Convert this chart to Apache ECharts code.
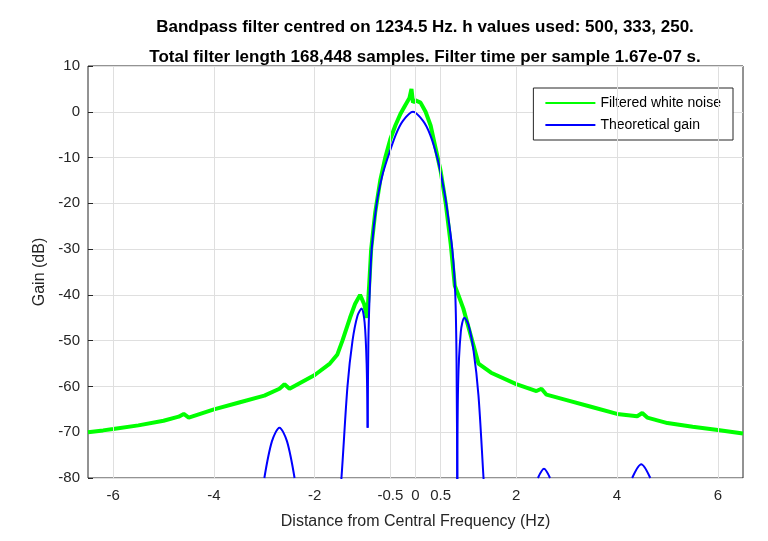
<!DOCTYPE html>
<html><head><meta charset="utf-8">
<script src="https://cdn.jsdelivr.net/npm/echarts@6/dist/echarts.min.js"></script>
<style>html,body{margin:0;background:#fff}#c{width:768px;height:541px}</style>
</head><body><div id="c"></div>
<script>
const xTicks = [-6,-4,-2,-0.5,0,0.5,2,4,6];
const noise = [[-6.5,-70],[-6.2,-69.6],[-6.0,-69.3],[-5.5,-68.5],[-5.0,-67.5],[-4.7,-66.6],[-4.6,-66],[-4.5,-66.8],[-4.0,-65],[-3.5,-63.5],[-3.0,-62],[-2.7,-60.5],[-2.6,-59.5],[-2.5,-60.5],[-2.0,-57.5],[-1.7,-55],[-1.55,-53],[-1.45,-50],[-1.3,-45],[-1.2,-42],[-1.1,-40],[-1.02,-42],[-0.96,-45],[-0.92,-38],[-0.88,-30],[-0.8,-22],[-0.7,-15],[-0.6,-10],[-0.5,-6],[-0.4,-3],[-0.3,-0.5],[-0.2,1.5],[-0.12,3],[-0.08,5],[-0.05,2],[0,2.5],[0.1,2],[0.2,0],[0.3,-3],[0.4,-8],[0.5,-13],[0.6,-20],[0.7,-29],[0.78,-38],[0.85,-40],[0.95,-43],[1.1,-49],[1.25,-55],[1.5,-57],[2.0,-59.5],[2.4,-61],[2.5,-60.5],[2.6,-61.8],[3.0,-63],[3.5,-64.5],[4.0,-66],[4.4,-66.5],[4.5,-65.8],[4.6,-66.8],[5.0,-68],[5.5,-68.8],[6.0,-69.5],[6.5,-70.3]];
const lobeMain = [[-0.95,-69],[-0.935,-50],[-0.91,-40],[-0.87,-30],[-0.77,-20],[-0.66,-14],[-0.55,-10],[-0.39,-5],[-0.25,-2],[-0.05,0],[0.15,-2],[0.29,-5],[0.43,-10],[0.53,-15],[0.61,-20],[0.73,-30],[0.79,-40],[0.815,-55],[0.83,-85]];
const lobeL1 = [[-1.52,-85],[-1.47,-80],[-1.35,-60],[-1.25,-50],[-1.15,-44.5],[-1.07,-43],[-1.01,-46],[-0.97,-55],[-0.95,-69]];
const lobeR1 = [[0.83,-85],[0.845,-60],[0.9,-48],[0.97,-45],[1.05,-46.5],[1.15,-52],[1.25,-62],[1.35,-80],[1.38,-85]];
const lobeL2 = [[-3.0,-80],[-2.85,-72],[-2.7,-69],[-2.55,-72],[-2.4,-80]];
const lobeR2 = [[2.43,-80],[2.55,-78],[2.67,-80]];
const lobeR3 = [[4.3,-80],[4.48,-77],[4.66,-80]];
const F = 'Liberation Sans, Arial, sans-serif';
const blue = (d, name) => ({type:'line', name: name, data:d, showSymbol:false, smooth:0.3, lineStyle:{color:'#0000ff',width:2}, itemStyle:{color:'#0000ff'}, clip:true, z:3});
const chart = echarts.init(document.getElementById('c'));
chart.setOption({
  animation:false,
  title:{text:'Bandpass filter centred on 1234.5 Hz. h values used: 500, 333, 250.\nTotal filter length 168,448 samples. Filter time per sample 1.67e-07 s.',
    left:420, textAlign:'center', top:7, textStyle:{fontFamily:F, fontSize:17, fontWeight:'bold', color:'#000', lineHeight:30}},
  grid:{left:88, right:25, top:66, bottom:63, show:true, borderColor:'#262626', borderWidth:1},
  legend:{right:35, top:88, orient:'vertical', backgroundColor:'#fff', borderColor:'#262626', borderWidth:1, padding:[8,12], itemGap:8, itemWidth:50, itemHeight:2,
    textStyle:{fontFamily:F, fontSize:14, color:'#000'}, icon:'rect', data:['Filtered white noise','Theoretical gain']},
  xAxis:{type:'value', min:-6.5, max:6.5, interval:0.5,
    name:'Distance from Central Frequency (Hz)', nameLocation:'middle', nameGap:36, nameTextStyle:{fontFamily:F, fontSize:16, color:'#262626'},
    axisLine:{show:false, onZero:false}, splitLine:{show:false},
    axisTick:{show:true, inside:true, length:5, customValues:xTicks, lineStyle:{color:'#262626'}},
    axisLabel:{customValues:xTicks, fontFamily:F, fontSize:15, color:'#262626', margin:10}},
  yAxis:{type:'value', min:-80, max:10, interval:10,
    name:'Gain (dB)', nameLocation:'middle', nameGap:40, nameTextStyle:{fontFamily:F, fontSize:16, color:'#262626'},
    axisLine:{show:false, onZero:false}, axisTick:{show:true, inside:true, length:5, lineStyle:{color:'#262626'}},
    axisLabel:{fontFamily:F, fontSize:15, color:'#262626'},
    splitLine:{lineStyle:{color:'#dfdfdf'}}},
  series:[
    {type:'line', name:'Filtered white noise', data:noise, showSymbol:false, lineStyle:{color:'#00ff00', width:4}, itemStyle:{color:'#00ff00'}, z:2,
      markLine:{silent:true, symbol:'none', label:{show:false}, lineStyle:{color:'#dfdfdf', type:'solid', width:1}, data:xTicks.map(v=>({xAxis:v}))}, },
    blue(lobeMain,'Theoretical gain'), blue(lobeL1,'Theoretical gain'), blue(lobeR1,'Theoretical gain'),
    blue(lobeL2,'Theoretical gain'), blue(lobeR2,'Theoretical gain'), blue(lobeR3,'Theoretical gain')
  ]
});
</script></body></html>
